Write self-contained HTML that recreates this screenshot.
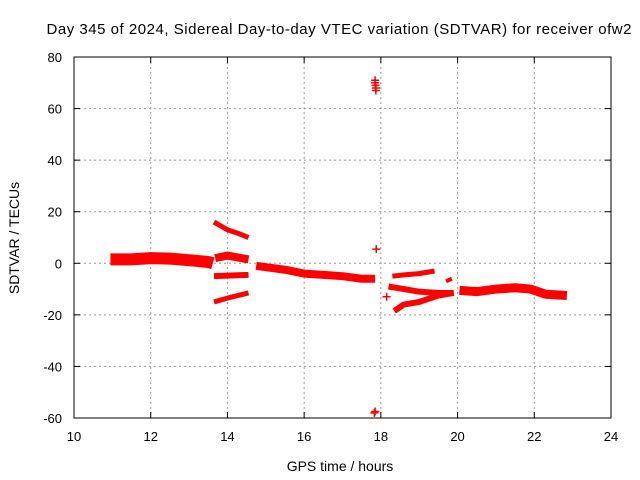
<!DOCTYPE html>
<html><head><meta charset="utf-8"><style>body{margin:0;background:#fff}svg{display:block;font-family:"Liberation Sans",sans-serif}</style></head>
<body>
<svg id="c" width="640" height="480"></svg>
<script>
const xTicks=[10,12,14,16,18,20,22,24];
const yTicks=[-60,-40,-20,0,20,40,60,80];
const trackMain=[[10.95,1.5],[11.5,1.5],[12,2],[12.5,1.8],[13,1.2],[13.5,0.5],[13.62,0]];
const trackA=[[13.65,16],[14,13],[14.3,11.5],[14.55,10]];
const trackB=[[13.68,2],[14,3],[14.55,1.5]];
const trackC=[[13.65,-5],[14.55,-4.5]];
const trackD=[[13.65,-15],[14,-13.5],[14.55,-11.5]];
const trackE=[[14.75,-1],[15,-1.5],[15.5,-2.5],[16,-4],[16.5,-4.5],[17,-5],[17.5,-6],[17.85,-6]];
const trackF=[[18.3,-5],[18.6,-4.5],[19,-4],[19.4,-3]];
const trackG=[[18.2,-9],[18.6,-10],[19,-11],[19.5,-11.5],[19.9,-11.5]];
const trackH=[[18.35,-18.5],[18.6,-16],[19,-15],[19.5,-12.5],[19.9,-11.5]];
const trackI=[[19.7,-7],[19.85,-6]];
const trackJ=[[20.05,-10.5],[20.5,-11],[21,-10],[21.5,-9.5],[21.9,-10],[22.3,-12],[22.85,-12.5]];
const outliers=[[17.85,71],[17.85,70],[17.86,69],[17.87,68],[17.87,67],[17.88,5.5],[17.85,-57.5],[17.83,-58],[18.15,-13]];
const tracks=[trackMain,trackA,trackB,trackC,trackD,trackE,trackF,trackG,trackH,trackI,trackJ];
const widths=[12,5,8,6,5,8,5,6,6,4,9];

const L=74,R=611,T=57,B=418,x0=10,x1=24,y0=-60,y1=80;
const X=h=>L+(h-x0)/(x1-x0)*(R-L);
const Y=v=>B-(v-y0)/(y1-y0)*(B-T);
const svg=document.getElementById('c');const NS='http://www.w3.org/2000/svg';
function mk(t,a,txt){const e=document.createElementNS(NS,t);for(const k in a)e.setAttribute(k,a[k]);if(txt!==undefined)e.textContent=txt;svg.appendChild(e);return e;}
xTicks.forEach(t=>{
 if(t>x0&&t<x1){const g=mk('line',{x1:X(t),x2:X(t),y1:T,y2:B,stroke:'#999','stroke-dasharray':'2,3'});
 
 }
 const l=mk('text',{x:X(t),y:B+23,'text-anchor':'middle','font-size':13,fill:'#000'},t);
 
 
 mk('line',{x1:X(t),x2:X(t),y1:B,y2:B-6,stroke:'#000'});mk('line',{x1:X(t),x2:X(t),y1:T,y2:T+6,stroke:'#000'});
});
yTicks.forEach(t=>{
 if(t>y0&&t<y1){const g=mk('line',{x1:L,x2:R,y1:Y(t),y2:Y(t),stroke:'#999','stroke-dasharray':'2,3'});
 
 }
 const l=mk('text',{x:L-12,y:Y(t)+5,'text-anchor':'end','font-size':13,fill:'#000'},t);
 
 
 mk('line',{x1:L,x2:L+6,y1:Y(t),y2:Y(t),stroke:'#000'});mk('line',{x1:R,x2:R-6,y1:Y(t),y2:Y(t),stroke:'#000'});
});
const fr=mk('rect',{x:L,y:T,width:R-L,height:B-T,fill:'none',stroke:'#000'});


tracks.forEach((tr,i)=>{
 const p=mk('polyline',{points:tr.map(d=>X(d[0])+','+Y(d[1])).join(' '),fill:'none',stroke:'#f00','stroke-width':widths[i],'stroke-linejoin':'round','stroke-linecap':'butt'});
 
 
});
outliers.forEach(d=>{
 const p=mk('path',{d:`M${X(d[0])-4},${Y(d[1])}h8M${X(d[0])},${Y(d[1])-4}v8`,stroke:'#f00','stroke-width':1.5});
 
 
});
const t1=mk('text',{x:339,y:34,'text-anchor':'middle','font-size':15,textLength:585},'Day 345 of 2024, Sidereal Day-to-day VTEC variation (SDTVAR) for receiver ofw2');


const t2=mk('text',{x:340,y:471,'text-anchor':'middle','font-size':14},'GPS time / hours');


const t3=mk('text',{x:19,y:238,'text-anchor':'middle','font-size':14,transform:'rotate(-90 19 238)'},'SDTVAR / TECUs');


</script>
</body></html>
